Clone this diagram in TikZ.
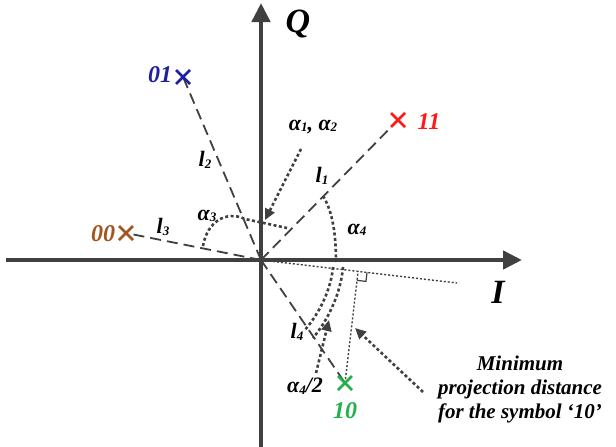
\documentclass[tikz,border=0pt]{standalone}
\usepackage{fontspec}
\setmainfont{Liberation Serif}
\usepackage{tikz}
\usetikzlibrary{arrows.meta,calc}
\usepackage{xcolor}
\definecolor{AxisGray}{HTML}{404040}
\definecolor{SymBlue}{HTML}{1F1FA0}
\definecolor{SymRed}{HTML}{FF1A1A}
\definecolor{SymBrown}{HTML}{A0561E}
\definecolor{SymGreen}{HTML}{22B04A}
\newcommand{\lsub}[1]{\raisebox{-1.5pt}{\fontsize{13}{13}\selectfont #1}}
\newcommand{\symcross}[2]{%
  \draw[line width=2.6pt,#2] ($(#1)+(-7,-7)$) -- ($(#1)+(7,7)$)
    ($(#1)+(-7,7)$) -- ($(#1)+(7,-7)$);}

\begin{document}
\begin{tikzpicture}[x=1pt,y=-1pt,
  axis/.style={line width=4.5pt,draw=AxisGray,-{Triangle[length=19pt,width=18pt]}},
  link/.style={line width=1.8pt,draw=AxisGray,dash pattern=on 11pt off 6pt},
  angarc/.style={line width=2.6pt,draw=AxisGray,dash pattern=on 3pt off 2.5pt},
  pointer/.style={angarc,-{Triangle[length=11pt,width=10pt]}},
  proj/.style={line width=1.4pt,draw=AxisGray,dash pattern=on 2pt off 2pt},
  symlab/.style={font=\fontsize{24}{24}\selectfont\bfseries\itshape},
  every node/.style={font=\fontsize{22}{24}\selectfont\bfseries\itshape,inner sep=1pt}]
  \useasboundingbox (0,0) rectangle (616,447);
  % constellation points
  \coordinate (O) at (261,260);
  \coordinate (s01) at (183,77);
  \coordinate (s11) at (398,120);
  \coordinate (s00) at (126,233);
  \coordinate (s10) at (345,383);
  \coordinate (pend) at (457,283);
  \coordinate (foot) at ($(O)!(s10)!(pend)$);
  % axes
  \coordinate (iL) at (6,260);
  \coordinate (iR) at (522,260);
  \coordinate (qB) at (261,447);
  \coordinate (qT) at (261,3);
  \draw[axis] (iL) -- (iR);
  \draw[axis] (qB) -- (qT);
  \node (qlab) at (298,24) {\fontsize{34}{34}\selectfont Q};
  \node (ilab) at (498,292) {\fontsize{34}{34}\selectfont I};
  % distances
  \draw[link] (O) -- (s01);
  \draw[link] (O) -- (s11);
  \draw[link] (O) -- (s00);
  \draw[link] (O) -- (s10);
  \node (l1) at (322,176) {l\lsub{1}};
  \node (l2) at (205,160) {l\lsub{2}};
  \node (l3) at (163,227) {l\lsub{3}};
  \node (l4) at (297,332) {l\lsub{4}};
  % angles
  \draw[angarc] (203,246) .. controls (207,222) and (226,210) .. (245,219) -- (287,228);
  \draw[angarc] (323,196) .. controls (333,212) and (336,236) .. (336,262);
  \draw[angarc] (333,267) .. controls (331,290) and (319,314) .. (304,331);
  \draw[angarc] (343,267) .. controls (341,293) and (328,320) .. (313,338);
  \node (a12) at (313,127) {α\lsub{1}, α\lsub{2}};
  \node (a3) at (207,216) {α\lsub{3}};
  \node (a4) at (357,230) {α\lsub{4}};
  \node (a42) at (305,386) {α\lsub{4}/2};
  \coordinate (a12tip) at (265,220);
  \coordinate (a42tip) at (329,320);
  \draw[pointer] (301,149) -- (a12tip);
  \draw[pointer] (316,373) -- (a42tip);
  % projection onto rotated axis
  \draw[proj] (O) -- (pend);
  \draw[proj] (s10) -- (foot);
  \draw[line width=1.2pt,AxisGray] ($(foot)!9pt!(pend)$)
    -- ($($(foot)!9pt!(pend)$)!9pt!90:(foot)$)
    -- ($(foot)!9pt!(s10)$);
  \node[align=center,font=\fontsize{21}{24}\selectfont\bfseries\itshape] (note) at (520,389)
    {Minimum\\projection distance\\for the symbol ‘10’};
  \coordinate (notetip) at (355,328);
  \draw[pointer] (423,392) -- (notetip);
  % symbols
  \symcross{s01}{SymBlue}
  \symcross{s11}{SymRed}
  \symcross{s00}{SymBrown}
  \symcross{s10}{SymGreen}
  \node[SymBlue,symlab] (n01) at (160,75) {01};
  \node[SymRed,symlab] (n11) at (429,122) {11};
  \node[SymBrown,symlab] (n00) at (103,234) {00};
  \node[SymGreen,symlab] (n10) at (345,411) {10};
\end{tikzpicture}
\end{document}
